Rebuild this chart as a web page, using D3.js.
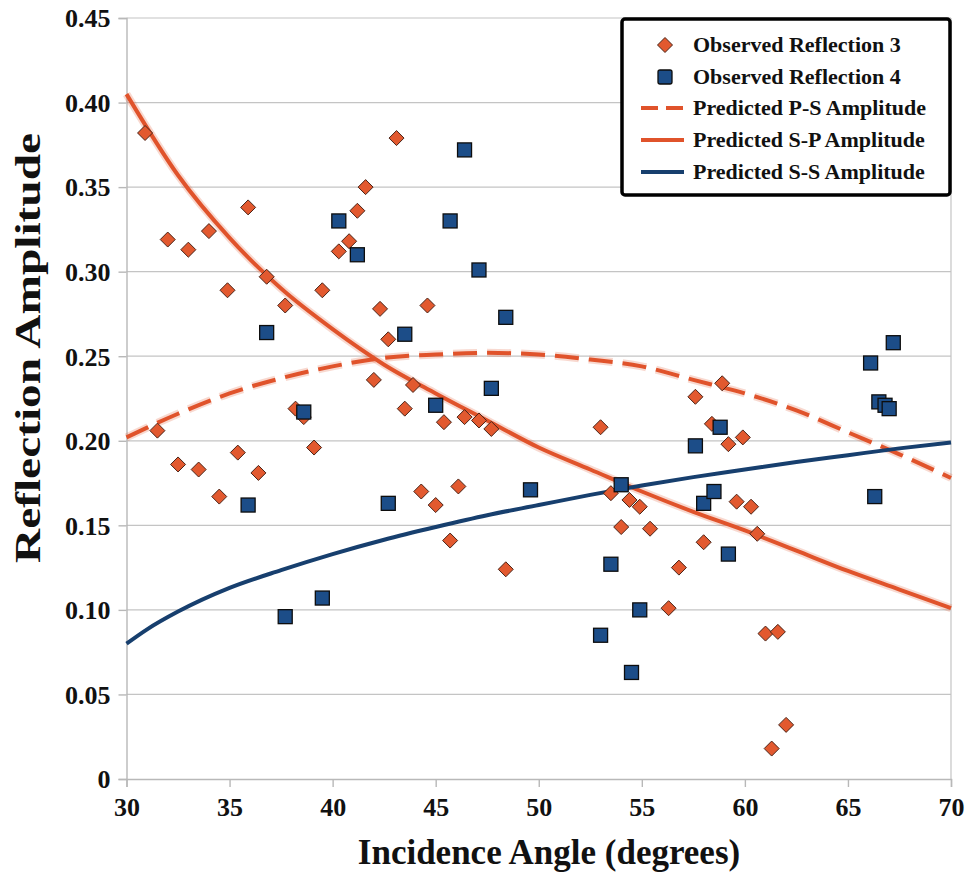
<!DOCTYPE html>
<html>
<head>
<meta charset="utf-8">
<script src="https://cdn.jsdelivr.net/npm/d3@7"></script>
<style>
  html, body { margin: 0; padding: 0; background: #ffffff; }
  svg { display: block; }
  text { font-family: "Liberation Serif", "Times New Roman", serif; font-weight: bold; fill: #111; }
</style>
</head>
<body>
<svg id="chart" width="968" height="879"></svg>
<script>
// Observed reflection 3 amplitudes (angle in degrees, amplitude)
const refl3Angle = [30.9, 31.5, 32.0, 32.5, 33.0, 33.5, 34.0, 34.5, 34.9, 35.4, 35.9, 36.4, 36.8, 37.7, 38.2, 38.6, 39.1, 39.5,
  40.3, 40.8, 41.2, 41.6, 42.0, 42.3, 42.7, 43.1, 43.5, 43.9, 44.3, 44.6, 45.0, 45.4, 45.7, 46.1, 46.4, 47.1, 47.7, 48.4,
  53.0, 53.5, 54.0, 54.4, 54.9, 55.4, 56.3, 56.8, 57.6, 58.0, 58.4, 58.9, 59.2, 59.6, 59.9, 60.3, 60.6, 61.0, 61.3, 61.6, 62.0];
const refl3Amp = [0.382, 0.206, 0.319, 0.186, 0.313, 0.183, 0.324, 0.167, 0.289, 0.193, 0.338, 0.181, 0.297, 0.280, 0.219, 0.214, 0.196, 0.289,
  0.312, 0.318, 0.336, 0.350, 0.236, 0.278, 0.260, 0.379, 0.219, 0.233, 0.170, 0.280, 0.162, 0.211, 0.141, 0.173, 0.214, 0.212, 0.207, 0.124,
  0.208, 0.169, 0.149, 0.165, 0.161, 0.148, 0.101, 0.125, 0.226, 0.140, 0.210, 0.234, 0.198, 0.164, 0.202, 0.161, 0.145, 0.086, 0.018, 0.087, 0.032];

// Observed reflection 4 amplitudes
const refl4Angle = [35.9, 36.8, 37.7, 38.6, 39.5, 40.3, 41.2, 42.7, 43.5, 45.0, 45.7, 46.4, 47.1, 47.7, 48.4, 49.6,
  53.0, 53.5, 54.0, 54.5, 54.9, 57.6, 58.0, 58.5, 58.8, 59.2, 66.1, 66.3, 66.5, 66.8, 67.0, 67.2];
const refl4Amp = [0.162, 0.264, 0.096, 0.217, 0.107, 0.330, 0.310, 0.163, 0.263, 0.221, 0.330, 0.372, 0.301, 0.231, 0.273, 0.171,
  0.085, 0.127, 0.174, 0.063, 0.100, 0.197, 0.163, 0.170, 0.208, 0.133, 0.246, 0.167, 0.223, 0.221, 0.219, 0.258];

// Predicted amplitude curves
const curveAngle = [30, 32.5, 35, 37.5, 40, 42.5, 45, 47.5, 50, 52.5, 55, 57.5, 60, 62.5, 65, 67.5, 70];
const predPS = [0.202, 0.216, 0.228, 0.237, 0.244, 0.249, 0.251, 0.252, 0.251, 0.248, 0.244, 0.236, 0.228, 0.218, 0.205, 0.192, 0.178];
const predSP = [0.405, 0.357, 0.320, 0.290, 0.266, 0.245, 0.228, 0.212, 0.196, 0.183, 0.170, 0.158, 0.147, 0.135, 0.123, 0.112, 0.101];
const ssAngle = [30, 31, 32.5, 35, 37.5, 40, 42.5, 45, 47.5, 50, 52.5, 55, 57.5, 60, 62.5, 65, 67.5, 70];
const predSS = [0.080, 0.0885, 0.0990, 0.1130, 0.1235, 0.1330, 0.1415, 0.1490, 0.1560, 0.1620, 0.1680, 0.1735, 0.1785, 0.1830, 0.1875, 0.1915, 0.1955, 0.1990];

const xTicks = [30, 35, 40, 45, 50, 55, 60, 65, 70];
const yTicks = [0, 0.05, 0.10, 0.15, 0.20, 0.25, 0.30, 0.35, 0.40, 0.45];

const legendLabels = ["Observed Reflection 3", "Observed Reflection 4", "Predicted P-S Amplitude", "Predicted S-P Amplitude", "Predicted S-S Amplitude"];

const ORANGE = "#e0532b";
const DIAMOND = "#e2592f";
const BLUE_LINE = "#173f6e";
const BLUE_FILL = "#1c4d88";

const svg = d3.select("#chart");
const plotLeft = 126.5, plotRight = 951, plotTop = 18, plotBottom = 779;

const x = d3.scaleLinear().domain([30, 70]).range([plotLeft, plotRight]);
const y = d3.scaleLinear().domain([0, 0.45]).range([plotBottom, plotTop]);

// horizontal grid
svg.append("g").selectAll("line").data(yTicks.filter(d => d > 0)).join("line")
  .attr("x1", plotLeft).attr("x2", plotRight)
  .attr("y1", d => y(d)).attr("y2", d => y(d))
  .attr("stroke", "#c4c4c4").attr("stroke-width", 1.2);

// right border
svg.append("line").attr("x1", plotRight).attr("x2", plotRight).attr("y1", plotTop).attr("y2", plotBottom)
  .attr("stroke", "#c4c4c4").attr("stroke-width", 1.2);

// axes
const xAxis = d3.axisBottom(x).tickValues(xTicks).tickSize(8).tickFormat(d3.format("d"));
const gx = svg.append("g").attr("transform", `translate(0,${plotBottom})`).call(xAxis);
gx.attr("font-family", null).attr("font-size", null);
gx.select(".domain").attr("stroke", "#b8b8b8").attr("stroke-width", 1.4);
gx.selectAll(".tick line").attr("stroke", "#b8b8b8").attr("stroke-width", 1.4);
gx.selectAll(".tick text").attr("font-size", 26).attr("dy", 0).attr("y", 37)
  .style("font-family", "'Liberation Serif', serif").style("font-weight", "bold").attr("fill", "#111");

const yAxis = d3.axisLeft(y).tickValues(yTicks).tickSize(8)
  .tickFormat(d => d === 0 ? "0" : d3.format(".2f")(d));
const gy = svg.append("g").attr("transform", `translate(${plotLeft},0)`).call(yAxis);
gy.attr("font-family", null).attr("font-size", null);
gy.select(".domain").attr("stroke", "#b8b8b8").attr("stroke-width", 1.4);
gy.selectAll(".tick line").attr("stroke", "#b8b8b8").attr("stroke-width", 1.4);
gy.selectAll(".tick text").attr("font-size", 26).attr("x", -16).attr("dy", "0.34em")
  .style("font-family", "'Liberation Serif', serif").style("font-weight", "bold").attr("fill", "#111");

// axis titles
svg.append("text").attr("x", 549).attr("y", 864).attr("text-anchor", "middle")
  .attr("font-size", 35).text("Incidence Angle (degrees)");
svg.append("text").attr("transform", "translate(40,348) rotate(-90)").attr("text-anchor", "middle")
  .attr("font-size", 35).attr("textLength", 430).attr("lengthAdjust", "spacingAndGlyphs")
  .text("Reflection Amplitude");

// predicted curves
const lineGen = (xs, ys) => d3.line().curve(d3.curveMonotoneX)
  .x((d, i) => x(xs[i])).y(d => y(d))(ys);

const curves = svg.append("g");
// soft halo under the orange curves
curves.append("path").attr("d", lineGen(curveAngle, predPS)).attr("fill", "none")
  .attr("stroke", ORANGE).attr("stroke-opacity", 0.22).attr("stroke-width", 8).attr("stroke-dasharray", "24,10");
curves.append("path").attr("d", lineGen(curveAngle, predSP)).attr("fill", "none")
  .attr("stroke", ORANGE).attr("stroke-opacity", 0.22).attr("stroke-width", 8);
curves.append("path").attr("d", lineGen(curveAngle, predPS)).attr("fill", "none")
  .attr("stroke", ORANGE).attr("stroke-width", 4).attr("stroke-dasharray", "24,10");
curves.append("path").attr("d", lineGen(curveAngle, predSP)).attr("fill", "none")
  .attr("stroke", ORANGE).attr("stroke-width", 4);
curves.append("path").attr("d", lineGen(ssAngle, predSS)).attr("fill", "none")
  .attr("stroke", BLUE_LINE).attr("stroke-width", 4);

// observed points
const diamond = s => `M0,${-s}L${s},0L0,${s}L${-s},0Z`;
svg.append("g").selectAll("path").data(refl3Amp).join("path")
  .attr("transform", (d, i) => `translate(${x(refl3Angle[i])},${y(d)})`)
  .attr("d", diamond(7.5))
  .attr("fill", DIAMOND).attr("stroke", "#4a2418").attr("stroke-width", 1);

svg.append("g").selectAll("rect").data(refl4Amp).join("rect")
  .attr("x", (d, i) => x(refl4Angle[i]) - 7).attr("y", d => y(d) - 7)
  .attr("width", 14).attr("height", 14)
  .attr("fill", BLUE_FILL).attr("stroke", "#0d0d0d").attr("stroke-width", 1.3);

// legend
const lg = svg.append("g");
lg.append("rect").attr("x", 622).attr("y", 19).attr("width", 328).attr("height", 176).attr("rx", 3)
  .attr("fill", "#fff").attr("stroke", "#000").attr("stroke-width", 3.5);
const rowY = [45, 77, 108, 140, 172];
lg.selectAll("text").data(legendLabels).join("text")
  .attr("x", 693).attr("y", (d, i) => rowY[i] + 7).attr("font-size", 22).text(d => d);
lg.append("path").attr("transform", `translate(665,${rowY[0]})`).attr("d", diamond(7.5))
  .attr("fill", DIAMOND).attr("stroke", "#4a2418").attr("stroke-width", 1);
lg.append("rect").attr("x", 658).attr("y", rowY[1] - 7).attr("width", 14).attr("height", 14).attr("rx", 2)
  .attr("fill", BLUE_FILL).attr("stroke", "#0d0d0d").attr("stroke-width", 1.3);
lg.append("line").attr("x1", 641).attr("x2", 684).attr("y1", rowY[2]).attr("y2", rowY[2])
  .attr("stroke", ORANGE).attr("stroke-width", 4).attr("stroke-dasharray", "17,8");
lg.append("line").attr("x1", 641).attr("x2", 684).attr("y1", rowY[3]).attr("y2", rowY[3])
  .attr("stroke", ORANGE).attr("stroke-width", 4);
lg.append("line").attr("x1", 641).attr("x2", 684).attr("y1", rowY[4]).attr("y2", rowY[4])
  .attr("stroke", BLUE_LINE).attr("stroke-width", 4);
</script>
</body>
</html>
